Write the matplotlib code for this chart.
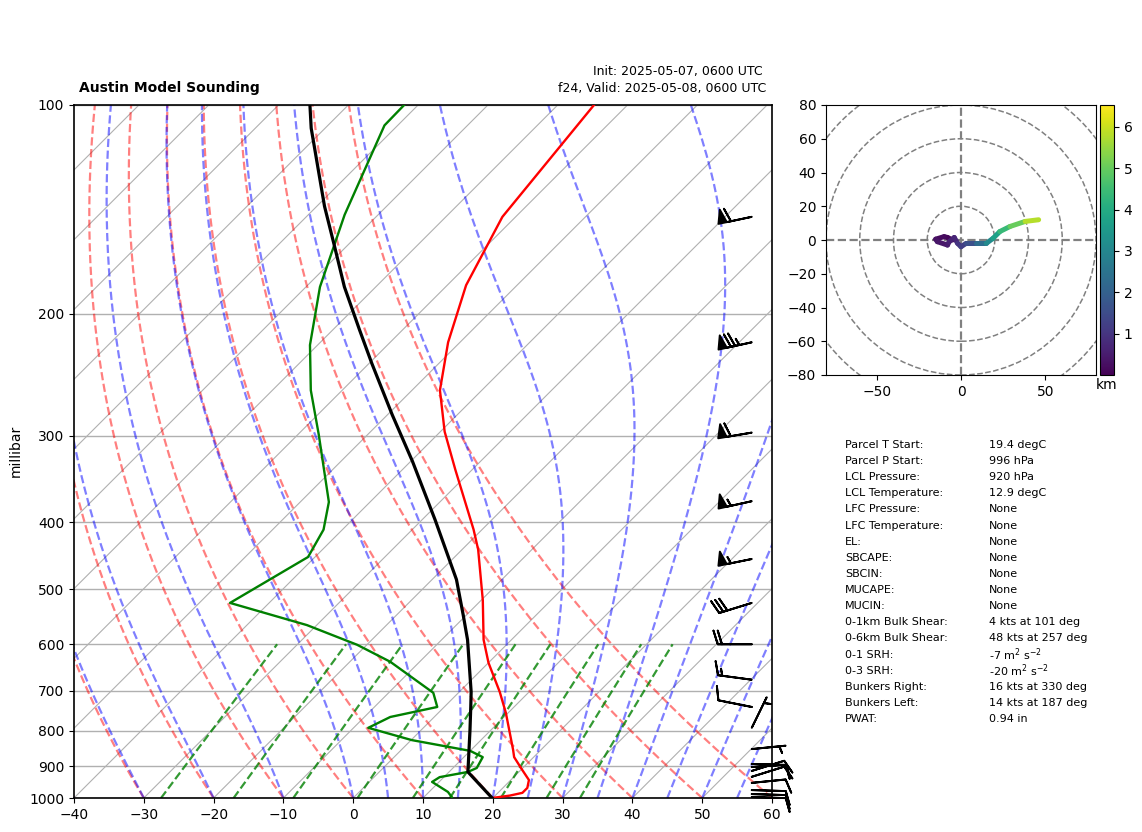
import numpy as np
from matplotlib import pyplot as plt
from matplotlib.collections import LineCollection
from matplotlib.cm import ScalarMappable
from matplotlib.colors import Normalize

# sounding
temp_p = [1000, 992, 983, 967, 942, 911, 873, 852, 754, 703, 638, 591, 518, 438, 410, 336, 296, 258, 220, 182, 145, 100]
temp_t = [19.9, 22.1, 23.5, 23.5, 22.6, 20.2, 17.2, 16.0, 9.7, 5.8, 0.0, -4.0, -9.8, -17.7, -21.2, -32.4, -39.4, -46.0, -51.7, -57.3, -61.9, -64.8]
dewp_p = [997, 980, 948, 933, 917, 905, 873, 855, 825, 792, 764, 739, 705, 636, 601, 563, 523, 449, 410, 374, 299, 258, 222, 183, 144, 107, 100]
dewp_t = [14.0, 12.7, 9.0, 9.4, 12.7, 13.4, 12.7, 10.0, 0.1, -7.9, -6.3, -1.0, -3.6, -14.2, -21.4, -31.4, -45.6, -41.0, -42.7, -45.9, -57.0, -64.5, -71.1, -78.0, -84.8, -91.9, -92.0]
parcel_p = [1000, 917, 798, 739, 703, 591, 544, 484, 397, 327, 280, 236, 211, 183, 160, 140, 108, 100]
parcel_t = [19.9, 12.7, 7.0, 3.8, 1.7, -6.3, -10.5, -16.5, -28.1, -39.7, -49.3, -59.6, -66.2, -74.5, -81.7, -88.9, -102.0, -105.5]

# wind barbs (knots)
barb_p = [145, 220, 297, 373, 452, 523, 600, 675, 739, 792, 850, 893, 902, 914, 932, 951, 974, 987, 997]
barb_u = [59, 73, 59, 54, 54, 29, 20, 15, 10, -2.2, -5, -10, -10, -9.6, -9.6, -10, -10, -10, -10]
barb_v = [12.5, 16, 10, 12, 11, 9, 0, -2, -2, -4.5, -0.5, 0.3, -0.6, -3, -3, -1, 0.3, 0.3, 0.3]

# hodograph
hodo_u = [-5, -8, -10, -15, -14, -8, -7, -4, -2, 0, 3, 9, 15, 19, 23, 29, 38, 46]
hodo_v = [0, 1.5, 2, 0.5, -1, -3, -1, 1.5, -2, -4, -2, -2, -2, 1, 5, 8, 11, 12]
hodo_h = [0.05, 0.1, 0.2, 0.3, 0.4, 0.5, 0.6, 0.7, 1.0, 1.2, 1.6, 2.3, 3.1, 3.7, 4.4, 5.0, 5.8, 6.4]

stat_names = ['Parcel T Start:', 'Parcel P Start:', 'LCL Pressure:', 'LCL Temperature:', 'LFC Pressure:',
              'LFC Temperature:', 'EL:', 'SBCAPE:', 'SBCIN:', 'MUCAPE:', 'MUCIN:', '0-1km Bulk Shear:',
              '0-6km Bulk Shear:', '0-1 SRH:', '0-3 SRH:', 'Bunkers Right:', 'Bunkers Left:', 'PWAT:']
stat_vals = ['19.4 degC', '996 hPa', '920 hPa', '12.9 degC', 'None', 'None', 'None', 'None', 'None', 'None', 'None',
             '4 kts at 101 deg', '48 kts at 257 deg', '-7 m$^2$ s$^{-2}$', '-20 m$^2$ s$^{-2}$',
             '16 kts at 330 deg', '14 kts at 187 deg', '0.94 in']

W, H = 1142, 832
SKEW = 99.3


def skewx(t, p):
    return np.asarray(t, float) + SKEW * np.log10(1000.0 / np.asarray(p, float))


def moist_line(t0, p):
    # integrate the pseudoadiabat upward in log p
    T = t0 + 273.15
    out = [T]
    for i in range(len(p) - 1):
        es = 6.112 * np.exp(17.67 * (T - 273.15) / (T - 29.65))
        rs = 0.622 * es / (p[i] - es)
        dTdp = (287.0 * T + 2.501e6 * rs) / (1005.0 + 2.501e6 ** 2 * rs * 0.622 / (287.0 * T ** 2)) / p[i]
        T = T + dTdp * (p[i + 1] - p[i])
        out.append(T)
    return np.array(out) - 273.15


fig = plt.figure(figsize=(W / 100, H / 100), dpi=100)
ax = fig.add_axes([74 / W, 1 - 798 / H, 698 / W, 693 / H])
ax.set_yscale('log')
ax.set_ylim(1000, 100)
ax.set_xlim(-40, 60)

# isotherms and isobars
pp = np.array([1000.0, 100.0])
for t in np.arange(-130, 61, 10):
    ax.plot(skewx([t, t], pp), pp, color='#b0b0b0', lw=0.8, zorder=1)
for p in np.arange(100, 1001, 100):
    ax.axhline(p, color='#b0b0b0', lw=1, zorder=1)

# dry adiabats, moist adiabats, mixing ratio lines
press = np.linspace(1000, 100, 300)
for t0 in np.arange(-40, 61, 10):
    t = (t0 + 273.15) * (press / 1000.0) ** 0.284 - 273.15
    ax.plot(skewx(t, press), press, color='r', ls='--', lw=1.6, alpha=0.5, zorder=2)
for t0 in list(np.arange(-40, 0, 10)) + list(np.arange(0, 61, 5)):
    ax.plot(skewx(moist_line(t0, press), press), press, color='b', ls='--', lw=1.6, alpha=0.5, zorder=2)
press_w = np.linspace(1000, 600, 50)
for w in [0.0004, 0.001, 0.002, 0.004, 0.007, 0.01, 0.016, 0.024, 0.032]:
    e = press_w * w / (0.622 + w)
    lg = np.log(e / 6.112)
    ax.plot(skewx(243.5 * lg / (17.67 - lg), press_w), press_w, color='g', ls='--', lw=1.6, alpha=0.8, zorder=2)

ax.plot(skewx(temp_t, temp_p), temp_p, color='r', lw=1.7, zorder=3)
ax.plot(skewx(dewp_t, dewp_p), dewp_p, color='g', lw=1.7, zorder=3)
ax.plot(skewx(parcel_t, parcel_p), parcel_p, color='k', lw=2.3, zorder=4)

ax.barbs(np.full(len(barb_p), 0.971), barb_p, barb_u, barb_v, transform=ax.get_yaxis_transform(),
         clip_on=False, length=7, linewidth=1.4, zorder=5)

ax.set_xticks(np.arange(-40, 61, 10))
ax.set_yticks(np.arange(100, 1001, 100))
ax.set_yticklabels([str(p) for p in range(100, 1001, 100)])
ax.minorticks_off()
ax.set_ylabel('millibar')
ax.yaxis.set_label_coords((23 - 74) / 698, 0.501)
for s in ax.spines.values():
    s.set_linewidth(1.2)

fig.text(79 / W, 1 - 92 / H, 'Austin Model Sounding', fontsize=10, fontweight='bold', ha='left', va='baseline')
fig.text(763 / W, 1 - 75 / H, 'Init: 2025-05-07, 0600 UTC', fontsize=9, ha='right', va='baseline')
fig.text(766 / W, 1 - 92 / H, 'f24, Valid: 2025-05-08, 0600 UTC', fontsize=9, ha='right', va='baseline')

# hodograph
hod = fig.add_axes([826 / W, 1 - 375 / H, 270 / W, 270 / H])
hod.set_xlim(-80, 80)
hod.set_ylim(-80, 80)
hod.set_xticks([-50, 0, 50])
hod.set_yticks(np.arange(-80, 81, 20))
for r in range(20, 101, 20):
    hod.add_patch(plt.Circle((0, 0), r, fill=False, ec='grey', ls='--', lw=1.1))
hod.axhline(0, color='grey', ls='--', lw=1.6)
hod.axvline(0, color='grey', ls='--', lw=1.6)

norm = Normalize(0.0, 6.53)
pts = np.column_stack([hodo_u, hodo_v])
segs = np.stack([pts[:-1], pts[1:]], axis=1)
lc = LineCollection(segs, cmap='viridis', norm=norm, linewidths=3.6, capstyle='round')
lc.set_array(np.array(hodo_h[:-1]))
hod.add_collection(lc)

cax = fig.add_axes([1100 / W, 1 - 375 / H, 14 / W, 270 / H])
cb = fig.colorbar(ScalarMappable(norm=norm, cmap='viridis'), cax=cax, ticks=[1, 2, 3, 4, 5, 6])
cax.set_xlabel('km', labelpad=2)

# stats table
for i, (a, b) in enumerate(zip(stat_names, stat_vals)):
    y = 1 - (445 + i * 16.12) / H
    fig.text(845 / W, y, a, fontsize=8, va='center')
    fig.text(989 / W, y, b, fontsize=8, va='center')

fig.savefig('out.png', dpi=100)
